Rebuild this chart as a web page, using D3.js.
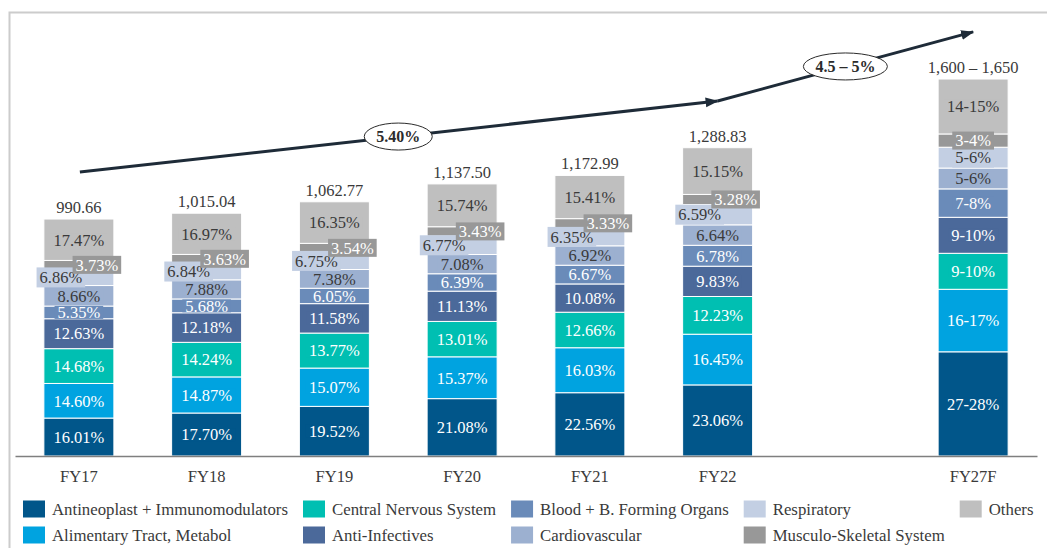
<!DOCTYPE html>
<html>
<head>
<meta charset="utf-8">
<script src="https://cdn.jsdelivr.net/npm/d3@7"></script>
<style>
  body { margin: 0; background: #fff; }
  svg text { font-family: "Liberation Serif", "Times New Roman", serif; }
</style>
</head>
<body>
<svg id="chart" width="1047" height="548"></svg>
<script>
// categories and totals (USD bn)
var categories = ["FY17", "FY18", "FY19", "FY20", "FY21", "FY22", "FY27F"];
var totals = [990.66, 1015.04, 1062.77, 1137.50, 1172.99, 1288.83, 1576];
var totalLabels = ["990.66", "1,015.04", "1,062.77", "1,137.50", "1,172.99", "1,288.83", "1,600 \u2013 1,650"];

var seriesNames = [
  "Antineoplast + Immunomodulators", "Alimentary Tract, Metabol", "Central Nervous System",
  "Anti-Infectives", "Blood + B. Forming Organs", "Cardiovascular",
  "Respiratory", "Musculo-Skeletal System", "Others"
];
var seriesColors = ["#01568a", "#00a3e0", "#00bfb2", "#4b699a", "#6a8bb9", "#9cb0d0", "#c3cfe3", "#989898", "#bfbfbf"];
var darkText = [false, false, false, false, false, true, true, false, true];

// shares in % per category (FY27F = midpoint of forecast range)
var antineoplast = [16.01, 17.70, 19.52, 21.08, 22.56, 23.06, 27.5];
var alimentary   = [14.60, 14.87, 15.07, 15.37, 16.03, 16.45, 16.5];
var cns          = [14.68, 14.24, 13.77, 13.01, 12.66, 12.23, 9.5];
var antiInf      = [12.63, 12.18, 11.58, 11.13, 10.08, 9.83, 9.5];
var blood        = [5.35, 5.68, 6.05, 6.39, 6.67, 6.78, 7.5];
var cardio       = [8.66, 7.88, 7.38, 7.08, 6.92, 6.64, 5.5];
var respiratory  = [6.86, 6.84, 6.75, 6.77, 6.35, 6.59, 5.5];
var musculo      = [3.73, 3.63, 3.54, 3.43, 3.33, 3.28, 3.5];
var others       = [17.47, 16.97, 16.35, 15.74, 15.41, 15.15, 14.5];
var forecastLabels = ["27-28%", "16-17%", "9-10%", "9-10%", "7-8%", "5-6%", "5-6%", "3-4%", "14-15%"];

// growth arrow (in value units) and CAGR labels
var growthPoints = [["FY17", 1187], ["FY22", 1484], ["FY27F", 1773]];
var cagrLabels = ["5.40%", "4.5 \u2013 5%"];

var series = [antineoplast, alimentary, cns, antiInf, blood, cardio, respiratory, musculo, others];

var svg = d3.select("#chart");

// frame
svg.append("path")
  .attr("d", "M9.5,548V12.5H1047")
  .attr("fill", "none")
  .attr("stroke", "#cccccc")
  .attr("stroke-width", 2);

var slots = categories.slice(0, 6).concat(["gap"], categories.slice(6));
var x = d3.scaleBand().domain(slots).range([15, 1037]).paddingInner(0.452).paddingOuter(0.226);
var y = d3.scaleLinear().domain([0, 1000]).range([456, 216.8]);

// stacked segments
var segs = [];
categories.forEach(function (cat, ci) {
  var sum = d3.sum(series, function (s) { return s[ci]; });
  var acc = 0;
  series.forEach(function (s, si) {
    var v0 = acc / sum * totals[ci];
    acc += s[ci];
    var v1 = acc / sum * totals[ci];
    var label = cat.endsWith("F") ? forecastLabels[si] : s[ci].toFixed(2) + "%";
    segs.push({ cat: cat, si: si, v0: v0, v1: v1, label: label, forecast: cat.endsWith("F") });
  });
});

svg.append("g").selectAll("rect").data(segs).join("rect")
  .attr("x", function (d) { return x(d.cat); })
  .attr("width", x.bandwidth())
  .attr("y", function (d) { return y(d.v1); })
  .attr("height", function (d) { return y(d.v0) - y(d.v1); })
  .attr("fill", function (d) { return seriesColors[d.si]; })
  .attr("stroke", "#fff")
  .attr("stroke-width", 1);

// segment labels
var lab = svg.append("g").selectAll("g").data(segs).join("g")
  .attr("transform", function (d) {
    var dx = 0;
    if (!d.forecast && d.si === 6) dx = -18;
    if (!d.forecast && d.si === 7) dx = 18;
    return "translate(" + (x(d.cat) + x.bandwidth() / 2 + dx) + "," + (y((d.v0 + d.v1) / 2)) + ")";
  });
lab.append("text")
  .attr("text-anchor", "middle")
  .attr("dy", "0.35em")
  .attr("font-size", 16.5)
  .attr("fill", function (d) { return darkText[d.si] ? "#3a3a3a" : "#ffffff"; })
  .text(function (d) { return d.label; });
lab.insert("rect", "text")
  .each(function (d) {
    var w = this.parentNode.querySelector("text").getComputedTextLength();
    var h = d.si === 6 ? 20 : (d.si === 7 ? 18 : 13);
    d3.select(this)
      .attr("x", -w / 2 - 3).attr("width", w + 6)
      .attr("y", -h / 2).attr("height", h)
      .attr("fill", seriesColors[d.si]);
  });

// totals above bars
svg.append("g").selectAll("text").data(categories).join("text")
  .attr("x", function (d) { return x(d) + x.bandwidth() / 2; })
  .attr("y", function (d, i) { return y(totals[i]) - 6; })
  .attr("text-anchor", "middle")
  .attr("font-size", 16.5)
  .attr("fill", "#3a3a3a")
  .text(function (d, i) { return totalLabels[i]; });

// x axis
var axis = svg.append("g")
  .attr("transform", "translate(0," + y(0) + ")")
  .call(d3.axisBottom(x).tickValues(categories).tickSize(0).tickPadding(14));
axis.select(".domain").attr("stroke", "#7f7f7f").attr("stroke-width", 1.5);
axis.selectAll("text")
  .attr("font-size", 16.5)
  .attr("font-family", "Liberation Serif, serif")
  .attr("fill", "#3a3a3a");

// growth arrows
var defs = svg.append("defs");
defs.append("marker")
  .attr("id", "arrow")
  .attr("markerUnits", "userSpaceOnUse")
  .attr("viewBox", "0 -6 13 12")
  .attr("refX", 12).attr("refY", 0)
  .attr("markerWidth", 13).attr("markerHeight", 12)
  .attr("orient", "auto")
  .append("path")
  .attr("d", "M0,-5L13,0L0,5Z")
  .attr("fill", "#1e2b38");

var px = function (p) { return x(p[0]) + x.bandwidth() / 2; };
var py = function (p) { return y(p[1]); };

for (var k = 0; k < growthPoints.length - 1; k++) {
  var a = growthPoints[k], b = growthPoints[k + 1];
  svg.append("line")
    .attr("x1", px(a) + (k === 0 ? 1 : 0)).attr("y1", py(a))
    .attr("x2", px(b)).attr("y2", py(b))
    .attr("stroke", "#1e2b38")
    .attr("stroke-width", 3)
    .attr("marker-end", "url(#arrow)");
}
for (var k = 0; k < growthPoints.length - 1; k++) {
  var a = growthPoints[k], b = growthPoints[k + 1];
  var cx = (px(a) + px(b)) / 2, cy = (py(a) + py(b)) / 2;
  var g = svg.append("g").attr("transform", "translate(" + cx + "," + cy + ")");
  var t = g.append("text")
    .attr("text-anchor", "middle")
    .attr("dy", "0.35em")
    .attr("font-size", 16)
    .attr("font-weight", "bold")
    .attr("fill", "#2b2b2b")
    .text(cagrLabels[k]);
  var tw = t.node().getComputedTextLength();
  g.insert("ellipse", "text")
    .attr("rx", tw / 2 + 12).attr("ry", 13.5)
    .attr("fill", "#fff")
    .attr("stroke", "#2b2b2b")
    .attr("stroke-width", 1);
}

// legend, column-major, 2 rows
var legend = svg.append("g");
var colX = 23;
for (var c = 0; c < Math.ceil(seriesNames.length / 2); c++) {
  var maxW = 0;
  for (var r = 0; r < 2; r++) {
    var i = c * 2 + r;
    if (i >= seriesNames.length) break;
    var ry = [509, 535][r];
    legend.append("rect")
      .attr("x", colX).attr("y", ry - 8.5)
      .attr("width", 22).attr("height", 17)
      .attr("fill", seriesColors[i]);
    var lt = legend.append("text")
      .attr("x", colX + 29).attr("y", ry)
      .attr("dy", "0.35em")
      .attr("font-size", 16.8)
      .attr("fill", "#3a3a3a")
      .text(seriesNames[i]);
    maxW = Math.max(maxW, lt.node().getComputedTextLength());
  }
  colX = colX + 29 + maxW + 15;
}
</script>
</body>
</html>
